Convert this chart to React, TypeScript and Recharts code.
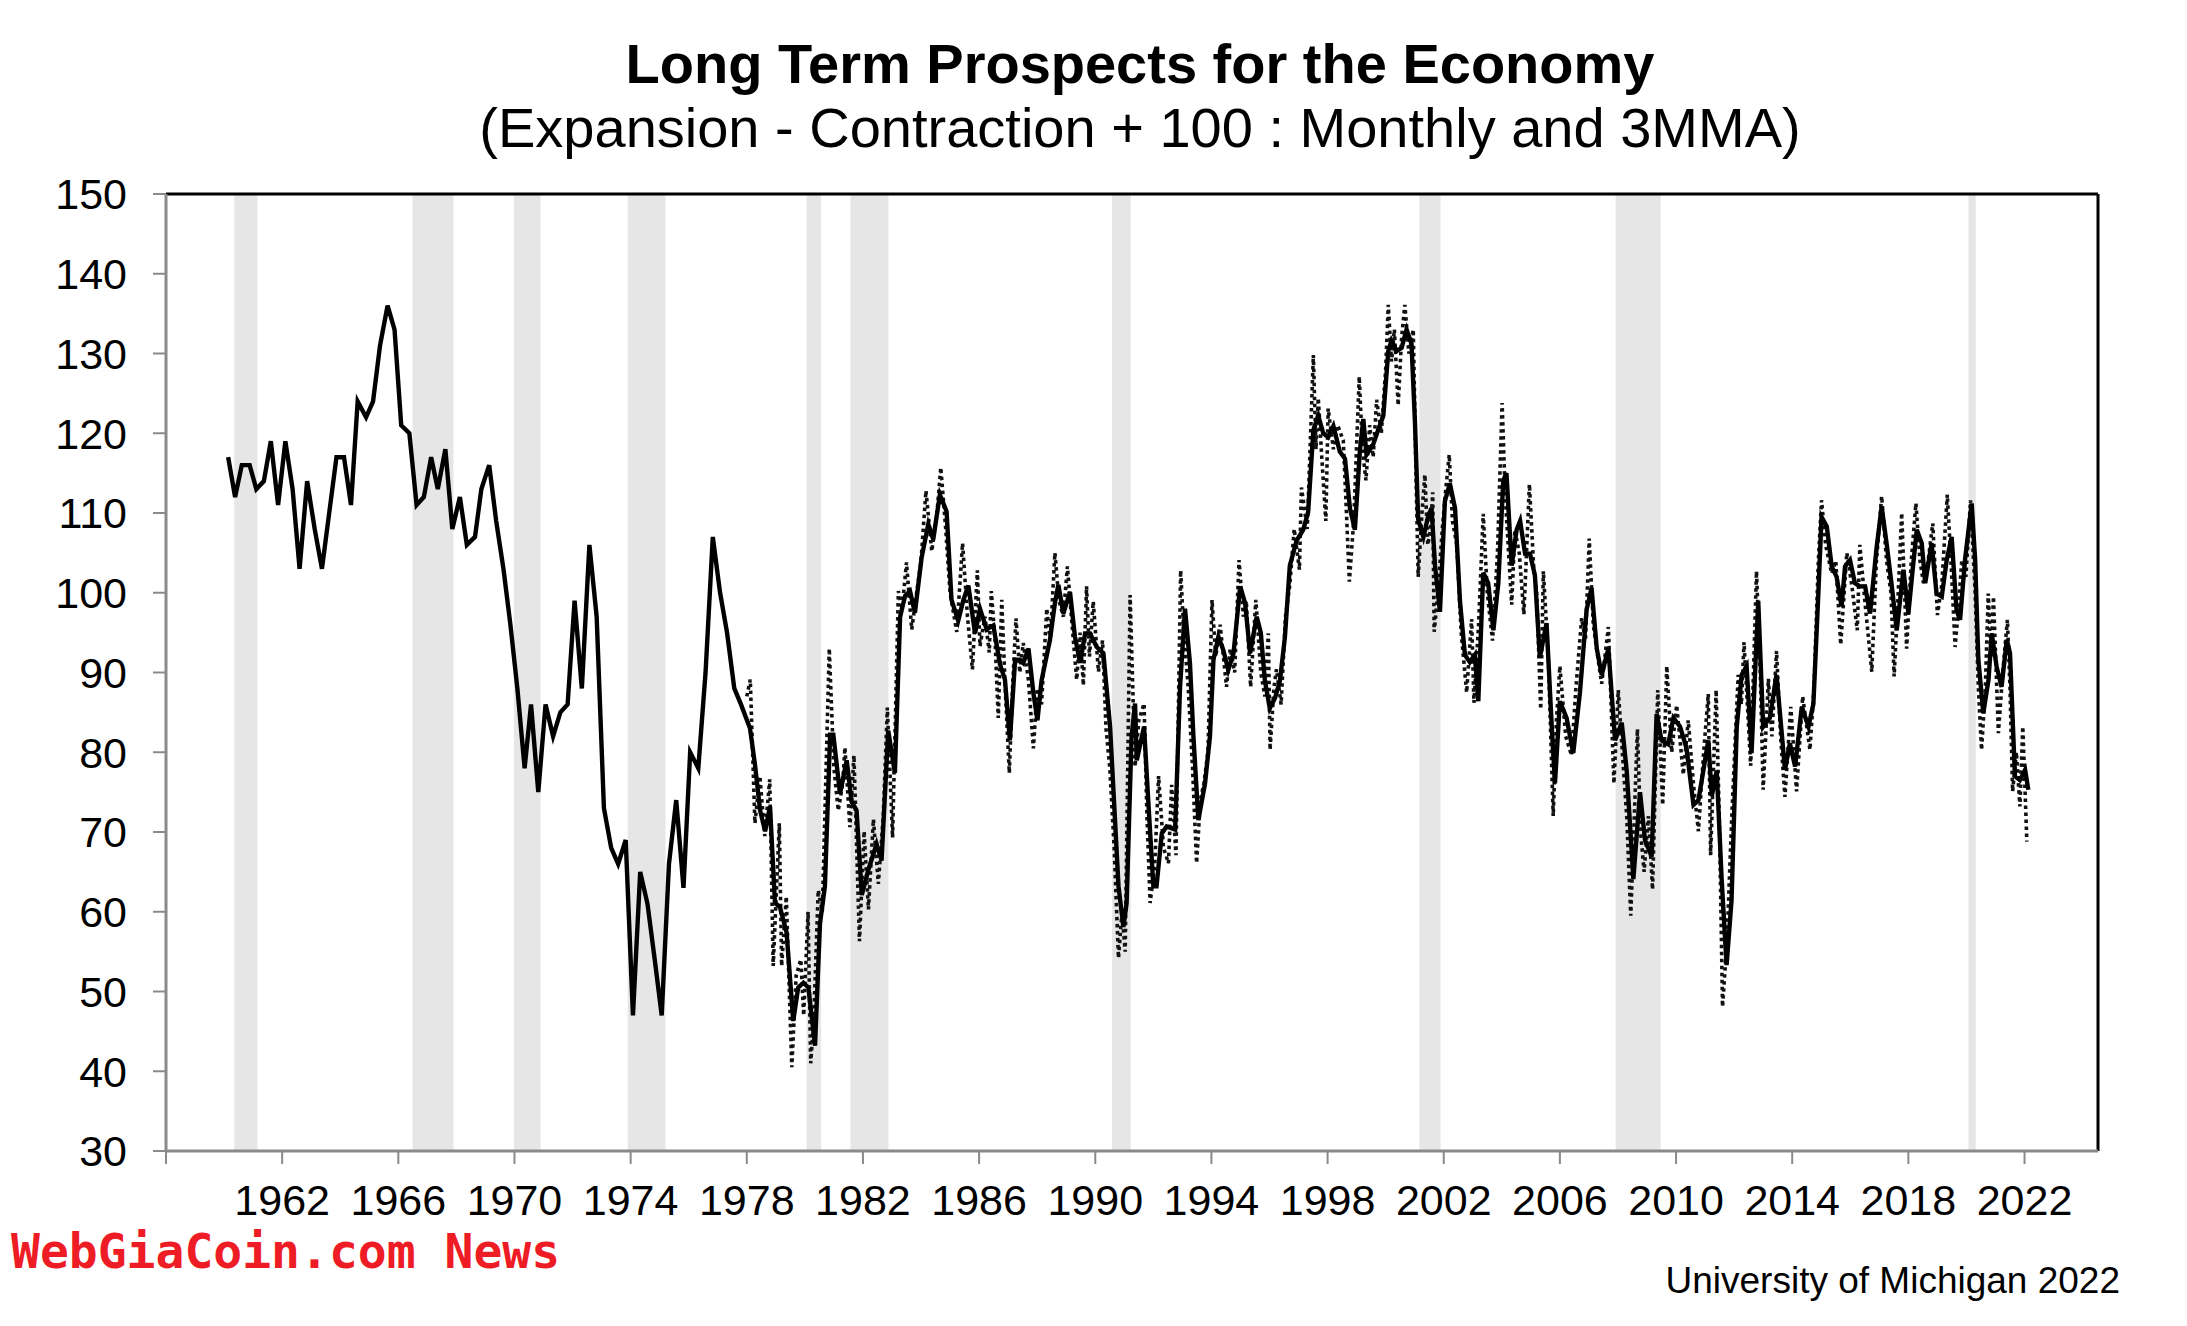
import React from "react";
import { LineChart, Line, XAxis, YAxis, ReferenceArea, ReferenceLine } from "recharts";

const FONT = '"Liberation Sans", Arial, Helvetica, sans-serif';
const X_MIN = 1958;
const X_MAX = 2024.53;

const yTicks = [30, 40, 50, 60, 70, 80, 90, 100, 110, 120, 130, 140, 150];
const xTicks = [1958, 1962, 1966, 1970, 1974, 1978, 1982, 1986, 1990, 1994, 1998, 2002, 2006, 2010, 2014, 2018, 2022];

// shaded recession periods [start, end]
const recessions: [number, number][] = [
  [1960.35, 1961.15], [1966.49, 1967.9], [1969.98, 1970.9], [1973.9, 1975.2],
  [1980.06, 1980.56], [1981.57, 1982.88], [1990.58, 1991.22], [2001.16, 2001.89],
  [2007.92, 2009.47], [2020.07, 2020.32],
];

// quarterly readings before monthly data starts
const earlyQuarterly: [number, number][] = [
  [1960.14, 117], [1960.38, 112], [1960.61, 116], [1960.88, 116], [1961.11, 113], [1961.37, 114],
  [1961.61, 119], [1961.86, 111], [1962.11, 119], [1962.36, 113], [1962.6, 103], [1962.86, 114],
  [1963.12, 108], [1963.37, 103], [1963.62, 110], [1963.87, 117], [1964.13, 117], [1964.37, 111],
  [1964.6, 124], [1964.89, 122], [1965.13, 124], [1965.37, 131], [1965.63, 136], [1965.87, 133],
  [1966.1, 121], [1966.38, 120], [1966.63, 111], [1966.88, 112], [1967.13, 117], [1967.36, 113],
  [1967.62, 118], [1967.86, 108], [1968.12, 112], [1968.36, 106], [1968.64, 107], [1968.86, 113],
  [1969.13, 116], [1969.37, 109], [1969.62, 103], [1969.86, 96], [1970.1, 88], [1970.35, 78],
  [1970.57, 86], [1970.82, 75], [1971.07, 86], [1971.33, 82], [1971.58, 85], [1971.83, 86],
  [1972.07, 99], [1972.32, 88], [1972.58, 106], [1972.83, 97], [1973.08, 73], [1973.33, 68],
  [1973.57, 66], [1973.83, 69], [1974.08, 47], [1974.33, 65], [1974.58, 61], [1974.83, 54],
  [1975.07, 47], [1975.32, 66], [1975.57, 74], [1975.82, 63], [1976.05, 80], [1976.33, 78],
  [1976.58, 90], [1976.83, 107], [1977.08, 100], [1977.32, 95], [1977.57, 88], [1977.8, 86],
];

// 3 month moving average (solid)
const smooth1978: [number, number][] = [
  [1978.11, 83], [1978.28, 78.5], [1978.46, 72.7], [1978.63, 70.1], [1978.8, 73.2], [1978.97, 61.1],
  [1979.14, 60.6], [1979.37, 57.4], [1979.6, 46.3], [1979.77, 50.5], [1979.95, 51.1], [1980.12, 50.5],
  [1980.35, 43.2], [1980.52, 58.5], [1980.69, 63.2], [1980.87, 82.2], [1980.98, 82.2], [1981.21, 74.8],
  [1981.44, 79], [1981.61, 73.8], [1981.78, 72.7], [1981.96, 62.1], [1982.19, 65.3], [1982.47, 68.5],
  [1982.64, 66.4], [1982.87, 82.7], [1983.1, 77.4], [1983.28, 97], [1983.45, 99.6], [1983.62, 100.2],
  [1983.79, 97.5], [1984.02, 104.4], [1984.25, 108.6], [1984.42, 106.7], [1984.65, 112.3], [1984.88, 110.2],
  [1985.05, 99.1], [1985.28, 96.5], [1985.46, 99.1], [1985.63, 100.9], [1985.86, 94.9], [1986.03, 98],
  [1986.26, 95.4], [1986.49, 95.9], [1986.72, 91], [1986.89, 89.1], [1987.06, 81.5], [1987.24, 91.6],
  [1987.41, 91.6], [1987.52, 91.2], [1987.7, 93], [1987.87, 87.4], [1988.01, 84], [1988.15, 89],
  [1988.44, 94.1], [1988.61, 98.7], [1988.73, 101], [1988.9, 97.4], [1989.13, 100.1], [1989.3, 94.5],
  [1989.48, 91.2], [1989.65, 94.9], [1989.82, 94.9],
];
const smooth1990: [number, number][] = [
  [1990.05, 93.2], [1990.28, 92.4], [1990.51, 83.2], [1990.68, 71.5], [1990.8, 63.2], [1990.97, 58.1],
  [1991.08, 61.1], [1991.25, 82], [1991.37, 86.1], [1991.43, 79], [1991.68, 83.2], [1991.83, 73.6],
  [1992.0, 63.2], [1992.11, 63.2], [1992.29, 69.8], [1992.46, 70.7], [1992.75, 70.3], [1992.92, 88.2],
  [1993.09, 98], [1993.26, 91.2], [1993.38, 82], [1993.55, 71.5], [1993.78, 76.1], [1993.95, 82],
  [1994.07, 91.6], [1994.24, 94.5], [1994.41, 92.8], [1994.58, 90.3], [1994.76, 92.4], [1994.99, 100.8],
  [1995.16, 98.7], [1995.33, 92.4], [1995.56, 97], [1995.7, 95], [1995.84, 89], [1996.01, 85.5],
  [1996.19, 86.8], [1996.36, 89], [1996.53, 94.4], [1996.7, 103.4], [1996.93, 106.5], [1997.16, 107.9],
  [1997.33, 110.1], [1997.51, 120.4], [1997.68, 122.2], [1997.85, 120], [1998.02, 119.5], [1998.2, 120.9],
  [1998.42, 117.7], [1998.6, 116.8], [1998.77, 110.6], [1998.94, 107.9], [1999.11, 117.7], [1999.23, 121.8],
  [1999.34, 117.3], [1999.57, 118.6], [1999.74, 120.4], [1999.92, 122.2],
];
const smooth2000: [number, number][] = [
  [2000.09, 130.3], [2000.2, 131.6], [2000.38, 130.3], [2000.55, 130.7], [2000.72, 133], [2000.89, 131.2],
  [2001.01, 121.3], [2001.12, 109.2], [2001.3, 107], [2001.47, 109.7], [2001.58, 110.6], [2001.7, 103.4],
  [2001.87, 97.6], [2002.04, 111.5], [2002.21, 113.7], [2002.39, 110.6], [2002.56, 98.9], [2002.73, 92.2],
  [2002.9, 91.3], [2003.07, 92.2], [2003.19, 86.4], [2003.36, 102.5], [2003.53, 101.2], [2003.71, 95.3],
  [2003.88, 101.2], [2004.05, 114.1], [2004.16, 115], [2004.34, 103.4], [2004.51, 107.9], [2004.63, 109],
  [2004.8, 104.9], [2004.97, 104.9], [2005.14, 102.2], [2005.31, 91.9], [2005.54, 96.2], [2005.72, 83.2],
  [2005.83, 76.1], [2006.0, 86.4], [2006.23, 84.3], [2006.46, 79.9], [2006.69, 87.5], [2006.92, 97.9],
  [2007.09, 100.6], [2007.27, 93], [2007.44, 89.7], [2007.67, 93], [2007.9, 81.5], [2008.13, 83.7],
  [2008.3, 77.7], [2008.53, 64.1], [2008.76, 75], [2008.93, 69], [2009.16, 66.9], [2009.33, 84.8],
  [2009.5, 81.5], [2009.73, 81], [2009.91, 84.3],
];
const smooth2010: [number, number][] = [
  [2010.14, 83.2], [2010.36, 80.5], [2010.6, 73.4], [2010.77, 74], [2010.94, 77.7], [2011.11, 81.5],
  [2011.23, 74.5], [2011.4, 77.7], [2011.57, 64.1], [2011.74, 53.3], [2011.91, 61.4], [2012.09, 83.2],
  [2012.26, 89.7], [2012.43, 90.8], [2012.6, 79.9], [2012.83, 99], [2013.0, 83.2], [2013.23, 84.3],
  [2013.46, 89.7], [2013.6, 84], [2013.75, 77.8], [2013.92, 81.1], [2014.1, 78.2], [2014.33, 85.7],
  [2014.56, 83.2], [2014.73, 86.1], [2014.9, 99.9], [2015.01, 109.5], [2015.19, 108.3], [2015.36, 103.3],
  [2015.53, 102], [2015.7, 98.3], [2015.82, 103.3], [2015.99, 104.1], [2016.16, 101.2], [2016.33, 100.8],
  [2016.51, 100.8], [2016.68, 97.4], [2016.91, 105.8], [2017.08, 110.8], [2017.25, 106.2], [2017.43, 100.8],
  [2017.6, 95.3], [2017.83, 102.9], [2018.0, 97.4], [2018.17, 103.7], [2018.29, 107.9], [2018.46, 106.2],
  [2018.58, 101.2], [2018.8, 106.2], [2018.97, 99.9], [2019.15, 99.5], [2019.32, 104.1], [2019.49, 107],
  [2019.66, 97.8], [2019.78, 96.6], [2019.95, 104.1], [2020.18, 111.2], [2020.3, 104.1], [2020.41, 91.6],
  [2020.58, 84.9], [2020.76, 89.1], [2020.87, 94.9], [2021.04, 90.7], [2021.21, 88.2], [2021.39, 94.1],
  [2021.5, 92.4], [2021.67, 77], [2021.84, 76.5], [2022.02, 77.8], [2022.13, 75.3],
];

// monthly readings (dotted)
const monthly1978: [number, number][] = [
  [1978.0, 87], [1978.12, 89.1], [1978.28, 71.1], [1978.45, 77], [1978.62, 69.5], [1978.79, 76.6],
  [1978.91, 53.2], [1979.12, 71.1], [1979.2, 53.2], [1979.36, 61.9], [1979.55, 40.5], [1979.7, 52],
  [1979.86, 54], [1979.96, 47], [1980.11, 60], [1980.2, 41], [1980.3, 46], [1980.46, 62.7],
  [1980.6, 60], [1980.84, 93], [1981.0, 78], [1981.15, 72.7], [1981.3, 76], [1981.38, 80.6],
  [1981.55, 70.6], [1981.69, 79.6], [1981.88, 56.3], [1982.04, 70.1], [1982.19, 60.3], [1982.36, 71.6],
  [1982.53, 63.5], [1982.7, 72], [1982.84, 85.6], [1983.02, 69.3], [1983.22, 100.2], [1983.35, 98],
  [1983.5, 103.8], [1983.68, 95.4], [1983.85, 100], [1984.0, 104], [1984.17, 112.8], [1984.37, 105.2],
  [1984.55, 110], [1984.68, 115.7], [1984.85, 108], [1985.0, 100], [1985.23, 95.1], [1985.43, 106.2],
  [1985.6, 97], [1985.77, 90.4], [1985.94, 102.8], [1986.03, 93.3], [1986.2, 97], [1986.35, 92.5],
  [1986.42, 100.2], [1986.55, 94], [1986.66, 84.3], [1986.78, 99.1], [1986.9, 88], [1987.04, 77.4],
  [1987.15, 88], [1987.27, 96.8], [1987.4, 90], [1987.52, 93.7], [1987.7, 89], [1987.87, 80.5],
  [1988.0, 88], [1988.15, 86], [1988.33, 98], [1988.45, 94], [1988.61, 105], [1988.75, 99],
  [1988.9, 97], [1989.04, 103.3], [1989.2, 96], [1989.36, 89.1], [1989.48, 95], [1989.59, 88.4],
  [1989.7, 100.8], [1989.8, 92], [1989.93, 98.9],
];
const monthly1990: [number, number][] = [
  [1990.11, 90.1], [1990.25, 94], [1990.37, 83], [1990.5, 78], [1990.65, 68], [1990.8, 54.2],
  [1990.92, 60], [1991.03, 55], [1991.2, 99.7], [1991.37, 78.2], [1991.5, 84], [1991.68, 86.1],
  [1991.78, 72], [1991.89, 61.1], [1992.05, 66], [1992.18, 77], [1992.35, 68], [1992.52, 66.1],
  [1992.63, 75.9], [1992.78, 67.1], [1992.94, 102.8], [1993.05, 95], [1993.2, 88.2], [1993.35, 78],
  [1993.49, 66.1], [1993.62, 74], [1993.74, 76.1], [1993.88, 80], [1994.02, 99.1], [1994.15, 92],
  [1994.3, 96], [1994.52, 88.2], [1994.65, 93], [1994.8, 90], [1994.95, 104.1], [1995.1, 97],
  [1995.2, 99], [1995.35, 88.2], [1995.53, 99.1], [1995.7, 90], [1995.84, 87], [1995.96, 94.9],
  [1996.02, 80.3], [1996.15, 88], [1996.24, 90.4], [1996.4, 86], [1996.55, 97], [1996.7, 101],
  [1996.85, 108], [1997.03, 102.9], [1997.1, 113.2], [1997.3, 108], [1997.51, 129.8], [1997.6, 118],
  [1997.68, 124.4], [1997.8, 117], [1997.94, 109], [1998.02, 123.1], [1998.2, 118], [1998.35, 121],
  [1998.54, 119.1], [1998.65, 110], [1998.75, 101.4], [1998.9, 109], [1999.09, 127.1], [1999.2, 118],
  [1999.32, 114.1], [1999.45, 121], [1999.57, 117], [1999.69, 124.2], [1999.85, 120],
];
const monthly2000: [number, number][] = [
  [2000.0, 128], [2000.09, 136.1], [2000.2, 129], [2000.3, 133], [2000.43, 123.5], [2000.55, 132],
  [2000.66, 136.1], [2000.8, 130], [2000.95, 133], [2001.05, 114], [2001.12, 102], [2001.25, 110],
  [2001.35, 114.8], [2001.45, 106], [2001.55, 108], [2001.62, 112.6], [2001.67, 95.1], [2001.8, 100],
  [2001.95, 108], [2002.07, 113], [2002.19, 117.3], [2002.3, 109], [2002.45, 106], [2002.6, 95],
  [2002.79, 87.5], [2002.96, 96.7], [2003.04, 86.2], [2003.2, 96], [2003.36, 109.9], [2003.5, 100],
  [2003.68, 94], [2003.85, 105], [2004.01, 123.8], [2004.12, 112], [2004.34, 98.5], [2004.45, 107.9],
  [2004.6, 105], [2004.76, 97.3], [2004.95, 113.6], [2005.1, 103], [2005.2, 100], [2005.34, 85.4],
  [2005.43, 102.7], [2005.6, 92], [2005.77, 72], [2005.88, 84], [2006.0, 90.8], [2006.2, 82],
  [2006.4, 79.6], [2006.55, 88], [2006.75, 96.8], [2006.88, 94], [2007.01, 106.8], [2007.15, 96],
  [2007.3, 92], [2007.44, 88.6], [2007.67, 95.7], [2007.86, 76.1], [2008.01, 87.8], [2008.15, 80],
  [2008.3, 72], [2008.44, 59.5], [2008.67, 82.9], [2008.78, 70], [2008.9, 65], [2009.05, 72],
  [2009.19, 62.8], [2009.37, 87.8], [2009.54, 73.4], [2009.68, 90.8], [2009.85, 80],
];
const monthly2010: [number, number][] = [
  [2010.02, 85.9], [2010.25, 77.2], [2010.42, 84], [2010.6, 76], [2010.77, 70.1], [2010.95, 80],
  [2011.11, 87.3], [2011.19, 67.1], [2011.38, 87.8], [2011.5, 70], [2011.6, 48.1], [2011.75, 56],
  [2011.92, 72], [2012.14, 89.7], [2012.25, 86], [2012.34, 93.8], [2012.57, 78.3], [2012.77, 102.7],
  [2012.9, 90], [2013.0, 75.3], [2013.18, 89.2], [2013.3, 82], [2013.46, 92.7], [2013.6, 82],
  [2013.75, 74.4], [2013.95, 85.7], [2014.15, 75.1], [2014.36, 87], [2014.61, 80.3], [2014.75, 88],
  [2014.9, 104], [2015.01, 111.6], [2015.15, 106], [2015.36, 102.4], [2015.5, 104], [2015.67, 93.5],
  [2015.88, 105], [2016.05, 101], [2016.24, 95.3], [2016.33, 106], [2016.5, 99], [2016.74, 90.1],
  [2016.9, 104], [2017.08, 112.1], [2017.25, 104], [2017.4, 100], [2017.51, 89.5], [2017.65, 100],
  [2017.77, 110], [2017.94, 93], [2018.1, 104], [2018.26, 111.2], [2018.4, 104], [2018.52, 101.2],
  [2018.68, 104], [2018.84, 108.7], [2019.0, 97.2], [2019.15, 101], [2019.34, 112.3], [2019.48, 103],
  [2019.61, 93.2], [2019.72, 98], [2019.84, 104.1], [2019.98, 102], [2020.14, 111.6], [2020.3, 100],
  [2020.41, 88], [2020.52, 80.3], [2020.65, 88], [2020.75, 99.9], [2020.85, 92], [2020.93, 99.5],
  [2021.1, 82.4], [2021.25, 90], [2021.41, 96.6], [2021.5, 88], [2021.59, 75.1], [2021.72, 80],
  [2021.84, 73.2], [2021.94, 83.2], [2022.08, 68.8],
];

type Row = { year: number; solid?: number; dotted?: number };

function buildRows(): Row[] {
  const rows = new Map<number, Row>();
  const put = (list: [number, number][], key: "solid" | "dotted") => {
    list.forEach(([year, v]) => {
      const r = rows.get(year) ?? { year };
      r[key] = v;
      rows.set(year, r);
    });
  };
  [earlyQuarterly, smooth1978, smooth1990, smooth2000, smooth2010].forEach((l) => put(l, "solid"));
  [monthly1978, monthly1990, monthly2000, monthly2010].forEach((l) => put(l, "dotted"));
  return [...rows.values()].sort((a, b) => a.year - b.year);
}

const data = buildRows();

export default function App() {
  const tickStyle = { fontSize: 43, fill: "#000", fontFamily: FONT };
  return (
    <div style={{ position: "absolute", left: 0, top: 0, width: 2187, height: 1326, background: "#fff" }}>
      <LineChart
        width={2187}
        height={1326}
        data={data}
        margin={{ top: 194, right: 89, bottom: 75, left: 16 }}
      >
        {recessions.map(([a, b], i) => (
          <ReferenceArea key={i} x1={a} x2={b} y1={30} y2={150} fill="#e6e6e6" fillOpacity={1} stroke="none" />
        ))}
        <XAxis
          dataKey="year"
          type="number"
          domain={[X_MIN, X_MAX]}
          allowDataOverflow
          ticks={xTicks}
          interval={0}
          tickFormatter={(v: number) => (v === 1958 ? "" : String(v))}
          height={100}
          tick={tickStyle}
          tickSize={13}
          tickMargin={20}
          axisLine={{ stroke: "#8a8a8a", strokeWidth: 3 }}
          tickLine={{ stroke: "#8a8a8a", strokeWidth: 2 }}
        />
        <YAxis
          type="number"
          domain={[30, 150]}
          ticks={yTicks}
          interval={0}
          width={150}
          tick={tickStyle}
          tickSize={13}
          tickMargin={26}
          axisLine={{ stroke: "#8a8a8a", strokeWidth: 3 }}
          tickLine={{ stroke: "#8a8a8a", strokeWidth: 2 }}
        />
        <ReferenceLine y={150} stroke="#000" strokeWidth={3} />
        <ReferenceLine x={X_MAX} stroke="#000" strokeWidth={3} />
        <Line
          type="linear"
          dataKey="dotted"
          stroke="#111"
          strokeWidth={3.6}
          strokeDasharray="3.5 3.5"
          dot={false}
          connectNulls
          isAnimationActive={false}
        />
        <Line
          type="linear"
          dataKey="solid"
          stroke="#000"
          strokeWidth={4.4}
          dot={false}
          connectNulls
          isAnimationActive={false}
        />
      </LineChart>
      <svg
        width={2187}
        height={1326}
        style={{ position: "absolute", left: 0, top: 0, pointerEvents: "none" }}
      >
        <text x={1140} y={83} textAnchor="middle" fontSize={56} fontWeight="bold" fontFamily={FONT} fill="#000">
          Long Term Prospects for the Economy
        </text>
        <text x={1140} y={147} textAnchor="middle" fontSize={56} fontFamily={FONT} fill="#000">
          (Expansion - Contraction + 100 : Monthly and 3MMA)
        </text>
        <text x={11} y={1268} fontSize={48} fontWeight="bold" fontFamily='"DejaVu Sans Mono", monospace' fill="#ee1c25">
          WebGiaCoin.com News
        </text>
        <text x={2120} y={1293} textAnchor="end" fontSize={37} fontFamily={FONT} fill="#000">
          University of Michigan 2022
        </text>
      </svg>
    </div>
  );
}
